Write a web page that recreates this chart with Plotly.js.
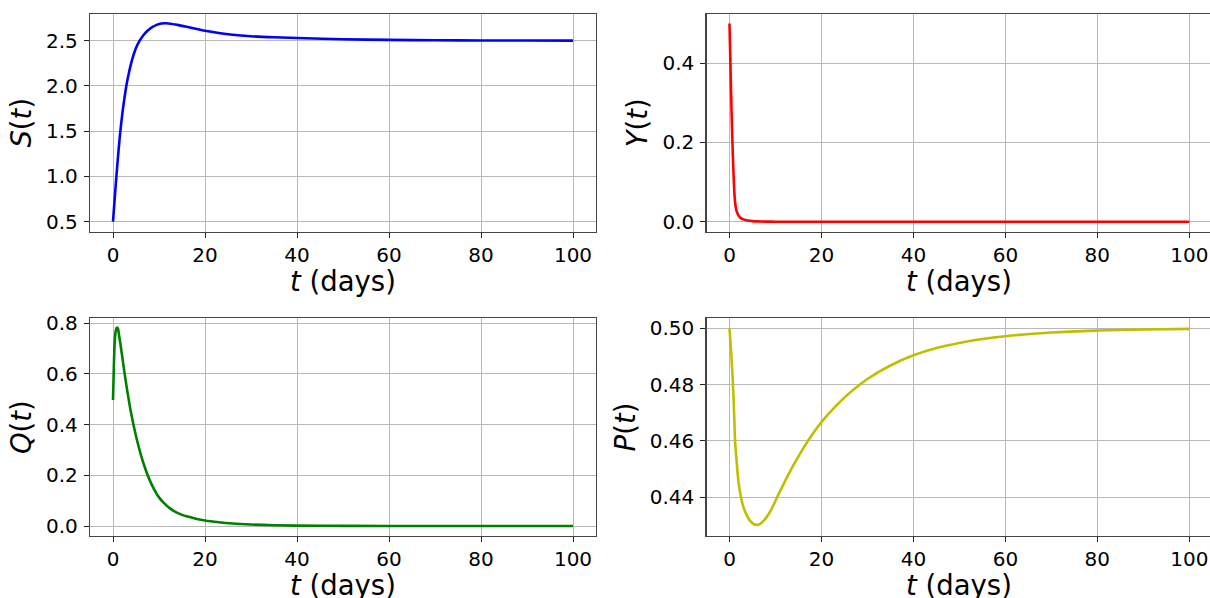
<!DOCTYPE html>
<html>
<head>
<meta charset="utf-8">
<script src="https://cdn.plot.ly/plotly-3.0.1.min.js"></script>
<style>html,body{margin:0;padding:0;background:#fff;}#chart{width:1210px;height:598px;}</style>
</head>
<body>
<div id="chart"></div>
<script>
// ---- data ----
const tS = [0,0.5,1.0,1.5,2.0,2.5,3.0,3.5,4.0,4.5,5.0,5.8,6.6,7.5,8.5,9.5,10.5,11.5,12.5,14,16,18,20,23,26,30,35,40,50,60,70,80,90,100];
const S  = [0.5,0.845,1.165,1.45,1.68,1.87,2.03,2.155,2.26,2.35,2.42,2.5,2.56,2.61,2.65,2.675,2.69,2.692,2.688,2.675,2.655,2.632,2.61,2.585,2.566,2.55,2.538,2.53,2.516,2.509,2.505,2.503,2.502,2.501];

const tY = [0,0.1,0.2,0.3,0.45,0.6,0.75,0.9,1.0,1.1,1.25,1.45,1.7,2.0,2.5,3,4,5,6,8,10,20,40,60,80,100];
const Y  = [0.5,0.45,0.4,0.35,0.28,0.215,0.16,0.115,0.088,0.066,0.046,0.031,0.022,0.015,0.009,0.006,0.003,0.0015,0.0008,0.0002,0.0001,0,0,0,0,0];

const tQ = [0,0.2,0.4,0.6,0.8,0.95,1.1,1.3,1.6,2.0,2.5,3.0,3.5,4,5,6,7,8,9,10,11,12,13,14,15,16,18,20,23,26,30,35,40,50,60,80,100];
const Q  = [0.497,0.64,0.735,0.77,0.782,0.783,0.778,0.755,0.72,0.67,0.605,0.545,0.49,0.44,0.355,0.285,0.227,0.18,0.143,0.113,0.092,0.075,0.062,0.052,0.044,0.038,0.029,0.022,0.015,0.01,0.006,0.003,0.0015,0.0004,0.0001,0,0];

const tP = [0,0.4,0.73,1.0,1.23,1.6,1.96,2.5,3.04,3.8,4.5,5.2,5.8,6.6,7.5,8.5,9.5,10.5,12,14,16,18,20,23,26,30,35,40,45,50,55,60,70,80,90,100];
const P  = [0.5,0.4905,0.481,0.470,0.4597,0.452,0.4454,0.440,0.4365,0.4335,0.4316,0.4306,0.4302,0.4305,0.4318,0.434,0.437,0.4405,0.4455,0.4517,0.4573,0.4623,0.4667,0.4722,0.4769,0.482,0.4868,0.4904,0.493,0.4948,0.4962,0.4972,0.4985,0.4992,0.4996,0.4998];

const xTickVals = [0,20,40,60,80,100];
const yTickS = [0.5,1.0,1.5,2.0,2.5];
const yTickY = [0.0,0.2,0.4];
const yTickQ = [0.0,0.2,0.4,0.6,0.8];
const yTickP = [0.44,0.46,0.48,0.50];
const xLabel = '<i>t</i> (days)';
const yLabels = ['<i>S</i>(<i>t</i>)','<i>Y</i>(<i>t</i>)','<i>Q</i>(<i>t</i>)','<i>P</i>(<i>t</i>)'];

// ---- styling / layout ----
const W = 1210, H = 598;
const FONT = 'DejaVu Sans, sans-serif';
const TICK = 20, TITLE = 27.5;
const lw = 2.6;
const traces = [
  {x:tS, y:S, xaxis:'x',  yaxis:'y',  type:'scatter', mode:'lines', line:{color:'#0000ff', width:lw, shape:'spline', smoothing:0.9}, hoverinfo:'skip'},
  {x:tY, y:Y, xaxis:'x2', yaxis:'y2', type:'scatter', mode:'lines', line:{color:'#ff0000', width:lw, shape:'spline', smoothing:0.5}, hoverinfo:'skip'},
  {x:tQ, y:Q, xaxis:'x3', yaxis:'y3', type:'scatter', mode:'lines', line:{color:'#008000', width:lw, shape:'spline', smoothing:0.9}, hoverinfo:'skip'},
  {x:tP, y:P, xaxis:'x4', yaxis:'y4', type:'scatter', mode:'lines', line:{color:'#bfbf00', width:lw, shape:'spline', smoothing:1}, hoverinfo:'skip'}
];

function xAx(domainPx, range, anchor){
  return {domain:[domainPx[0]/W, Math.min(1, domainPx[1]/W)], range:range, anchor:anchor,
    tickvals:xTickVals, ticktext:xTickVals.map(String), ticks:'outside', ticklen:5, tickwidth:1, tickcolor:'#222',
    showline:true, linecolor:'#444', linewidth:1.2, mirror:true, showgrid:true, gridcolor:'#b8b8b8', gridwidth:1,
    zeroline:false, tickfont:{family:FONT, size:TICK, color:'#000'}, ticklabelstandoff:0, automargin:false};
}
function yAx(domainPx, range, anchor, ticks, fmt, standoff){
  return {domain:[1-domainPx[1]/H, 1-domainPx[0]/H], range:range, anchor:anchor,
    tickvals:ticks, tickformat:fmt, ticks:'outside', ticklen:5, tickwidth:1, tickcolor:'#222',
    showline:true, linecolor:'#444', linewidth:1.2, mirror:true, showgrid:true, gridcolor:'#b8b8b8', gridwidth:1,
    zeroline:false, tickfont:{family:FONT, size:TICK, color:'#000'}, ticklabelstandoff:2,
    title:{text:'', font:{family:FONT, size:TITLE, color:'#000'}, standoff:standoff}, automargin:false};
}

function xTitle(cx, cy){
  return {text:xLabel, xref:'paper', yref:'paper', x:cx/W, y:1-cy/H, xanchor:'center', yanchor:'middle',
    showarrow:false, font:{family:FONT, size:TITLE, color:'#000'}};
}

const layout = {
  width:W, height:H, margin:{l:0,r:0,t:0,b:0}, paper_bgcolor:'#fff', plot_bgcolor:'#fff', showlegend:false,
  font:{family:FONT, color:'#000'},
  xaxis:  xAx([90,596],[-5,105],'y'),
  xaxis2: xAx([706.5,1210],[-5,104.5],'y2'),
  xaxis3: xAx([90,596],[-5,105],'y3'),
  xaxis4: xAx([706.5,1210],[-5,104.5],'y4'),
  yaxis:  yAx([14,231.5],[0.5-(231.5-221.7)/90.5, 2.5+(40.7-14)/90.5],'x', yTickS,'.1f',6),
  yaxis2: yAx([14,231.5],[-(231.5-221.7)/397, 0.4+(63.3-14)/397],'x2', yTickY,'.1f',6),
  yaxis3: yAx([318.3,536],[-(536-526)/253.4, 0.8+(323.3-318.3)/253.4],'x3', yTickQ,'.1f',6),
  yaxis4: yAx([318.3,535.7],[0.44-(535.7-497.3)/2816.7, 0.50+(328.3-318.3)/2816.7],'x4', yTickP,'.2f',6),
  annotations:[xTitle(343,281), xTitle(959,281), xTitle(343,585), xTitle(959,585)]
};
layout.yaxis.title.text = yLabels[0];
layout.yaxis2.title.text = yLabels[1];
layout.yaxis3.title.text = yLabels[2];
layout.yaxis4.title.text = yLabels[3];

Plotly.newPlot('chart', traces, layout, {staticPlot:true, displayModeBar:false});
</script>
</body>
</html>
